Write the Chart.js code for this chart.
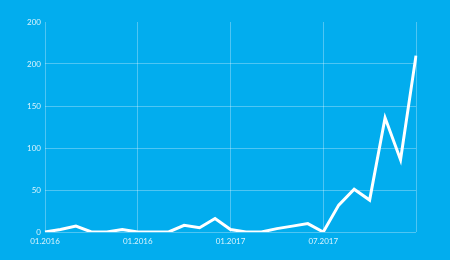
<!DOCTYPE html>
<html>
<head>
<meta charset="utf-8">
<script src="https://cdn.jsdelivr.net/npm/chart.js@4"></script>
<style>
    html, body { margin: 0; padding: 0; background: #02adee; }
    #wrap { width: 450px; height: 260px; }
</style>
</head>
<body>
<div id="wrap"><canvas id="chart" width="450" height="260"></canvas></div>
<script>
// one point per month, tick every 6 points
const xTicks = ["01.2016", "01.2016", "01.2017", "07.2017", ""];
const values = [0, 3, 7, 0, 0, 3, 0, 0, 0, 8, 5, 16, 3, 0, 0, 4, 7, 10, 0, 32, 51, 38, 136, 86, 210];
const yTicks = ["0", "50", "100", "150", "200", "200"];

const labels = values.map((v, i) => i % 6 === 0 ? xTicks[i / 6] : "");
const grid = "rgba(255,255,255,0.3)";
const tickFont = { family: "Lato", size: 8 };

new Chart(document.getElementById("chart"), {
    type: "line",
    data: {
        labels,
        datasets: [{
            data: values,
            borderColor: "#ffffff",
            borderWidth: 3,
            borderJoinStyle: "miter",
            pointRadius: 0,
            tension: 0,
            fill: false
        }]
    },
    options: {
        responsive: false,
        animation: false,
        layout: { padding: { top: 22, right: 34, left: 0, bottom: 0 } },
        plugins: { legend: { display: false }, tooltip: { enabled: false } },
        scales: {
            x: {
                offset: false,
                border: { display: false },
                grid: {
                    color: ctx => ctx.index % 6 === 0 ? grid : "transparent",
                    drawTicks: false
                },
                ticks: {
                    autoSkip: false,
                    maxRotation: 0,
                    padding: 5,
                    color: "rgba(255,255,255,0.85)",
                    font: tickFont,
                    callback: (v, i) => labels[i]
                },
                afterFit: s => { s.height = 28; }
            },
            y: {
                min: 0,
                max: 250,
                border: { display: false },
                grid: {
                    color: ctx => ctx.index === 5 ? "transparent" : grid,
                    drawTicks: false
                },
                ticks: {
                    stepSize: 50,
                    padding: 4,
                    color: "rgba(255,255,255,0.85)",
                    font: tickFont,
                    callback: (v, i) => yTicks[i]
                },
                afterFit: s => { s.width = 45; }
            }
        }
    }
});
</script>
</body>
</html>
